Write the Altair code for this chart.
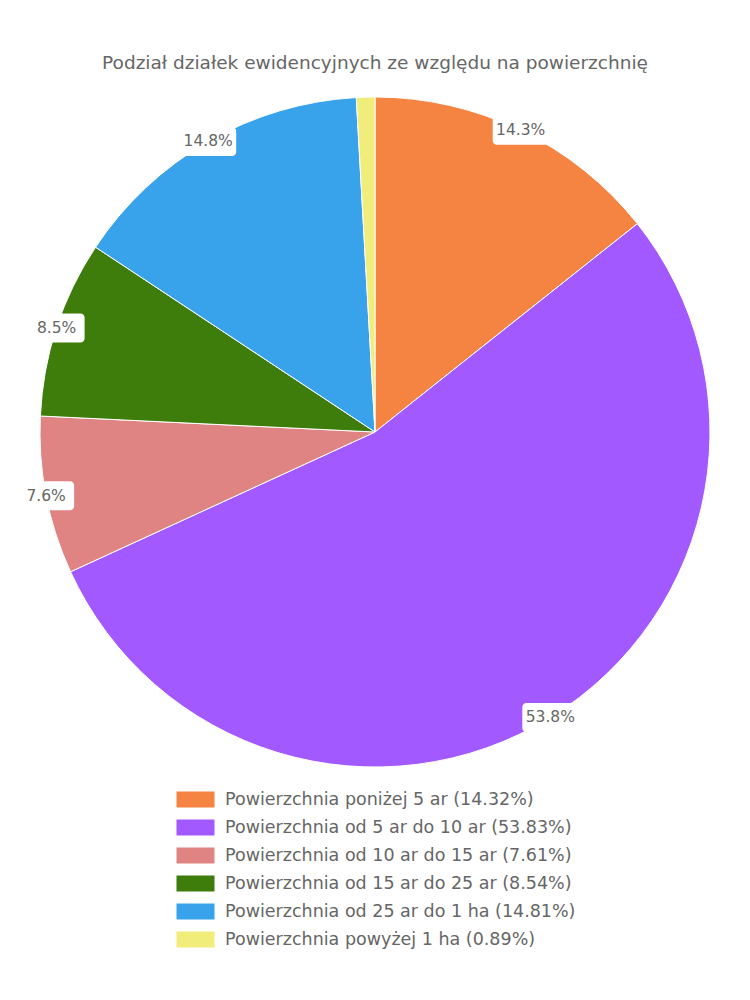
import altair as alt
import pandas as pd

categories = [
    "Powierzchnia poniżej 5 ar",
    "Powierzchnia od 5 ar do 10 ar",
    "Powierzchnia od 10 ar do 15 ar",
    "Powierzchnia od 15 ar do 25 ar",
    "Powierzchnia od 25 ar do 1 ha",
    "Powierzchnia powyżej 1 ha",
]
values = [14.32, 53.83, 7.61, 8.54, 14.81, 0.89]
colors = ["#F58442", "#A259FF", "#E08383", "#3E7C0B", "#38A3EB", "#F0ED7A"]
title_text = "Podział działek ewidencyjnych ze względu na powierzchnię"

legend_labels = [f"{c} ({v:.2f}%)" for c, v in zip(categories, values)]
df = pd.DataFrame({
    "idx": list(range(len(categories))),
    "category": categories,
    "legend": legend_labels,
    "value": values,
})

FONT = "DejaVu Sans"
GREY = "#666666"

base = alt.Chart(df)

color = alt.Color(
    "legend:N",
    scale=alt.Scale(domain=legend_labels, range=colors),
    sort=legend_labels,
    legend=alt.Legend(
        title=None,
        orient="none",
        legendX=146,
        legendY=693,
        direction="vertical",
        labelFontSize=17.5,
        labelColor=GREY,
        labelFont=FONT,
        symbolType="M-2,-0.84H2V0.84H-2Z",
        symbolSize=361,
        symbolStrokeWidth=0,
        symbolOpacity=1,
        labelOffset=20,
        rowPadding=10,
        labelLimit=500,
    ),
)

arcs = base.mark_arc(stroke="white", strokeWidth=1).encode(
    theta=alt.Theta("value:Q", stack=True),
    color=color,
    order=alt.Order("idx:Q"),
)

lab = (
    base.transform_joinaggregate(total="sum(value)")
    .transform_window(cum="sum(value)", sort=[alt.SortField("idx")], frame=[None, 0])
    .transform_calculate(
        ang="2*PI*(datum.cum - datum.value/2)/datum.total",
        px="sin(datum.ang)",
        py="cos(datum.ang)",
        txt="format(datum.value, '.1f') + '%'",
    )
    .transform_filter("datum.value >= 1")
)

xs = alt.X("px:Q", scale=alt.Scale(domain=[-1, 1], nice=False, zero=False), axis=None)
ys = alt.Y("py:Q", scale=alt.Scale(domain=[-1, 1], nice=False, zero=False), axis=None)

box_path = ("M-4.8,-2.9H4.8A0.8,0.8,0,0,1,5.6,-2.1V2.1A0.8,0.8,0,0,1,4.8,2.9"
            "H-4.8A0.8,0.8,0,0,1,-5.6,2.1V-2.1A0.8,0.8,0,0,1,-4.8,-2.9Z")
boxes = lab.mark_point(shape=box_path, size=100, filled=True, fill="white",
                       opacity=1, strokeWidth=0).encode(x=xs, y=ys)
texts = lab.mark_text(font=FONT, fontSize=15.5, color=GREY).encode(x=xs, y=ys, text="txt:N")

chart = (
    alt.layer(arcs, boxes, texts)
    .properties(
        width=670,
        height=670,
        title=alt.TitleParams(title_text, font=FONT, fontSize=18.5, fontWeight="normal",
                              color=GREY, anchor="middle", offset=23),
        autosize=alt.AutoSizeParams(type="none"),
        padding={"left": 40, "top": 97, "right": 40, "bottom": 233},
    )
    .configure_view(stroke=None)
)

chart.save("out.html", embed_options={"renderer": "svg", "actions": False})
